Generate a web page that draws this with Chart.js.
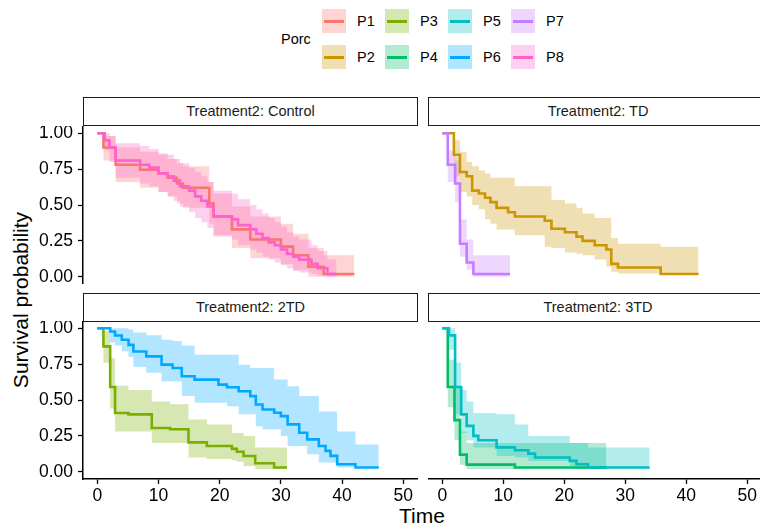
<!DOCTYPE html>
<html>
<head>
<meta charset="utf-8">
<script src="https://cdn.jsdelivr.net/npm/chart.js@4"></script>
<style>
  body { margin: 0; width: 760px; height: 527px; overflow: hidden; background: #fff; position: relative;
         font-family: "Liberation Sans", Arial, sans-serif; color: #000; }
  canvas { position: absolute; }
  .strip { position: absolute; box-sizing: border-box; height: 29px; border: 1.5px solid #1a1a1a; background: #fff;
           font-size: 14.5px; line-height: 26px; text-align: center; color: #1a1a1a; white-space: nowrap; }
  #legend { position: absolute; left: 322px; top: 9px; display: grid; grid-template-rows: 24px 24px; row-gap: 12px;
            grid-auto-flow: column; grid-auto-columns: 63px; }
  .item { display: flex; align-items: center; font-size: 14.5px; }
  .key { width: 24px; height: 24px; position: relative; margin-right: 11px; }
  .key span { position: absolute; left: 2px; right: 2px; top: 10.5px; height: 3px; }
  #ltitle { position: absolute; left: 281px; top: 31px; font-size: 14.5px; }
  #ytitle { position: absolute; left: 21px; top: 300px; font-size: 21px; white-space: nowrap;
            transform: translate(-50%, -50%) rotate(-90deg); }
  #xtitle { position: absolute; left: 422px; top: 516px; font-size: 21px; transform: translate(-50%, -50%); }
</style>
</head>
<body>
<div id="ltitle">Porc</div>
<div id="legend"></div>
<div id="ytitle">Survival probability</div>
<div id="xtitle">Time</div>
<script>
// series and panels
const seriesNames = ["P1", "P2", "P3", "P4", "P5", "P6", "P7", "P8"];
const seriesColors = ["#F8766D", "#CD9600", "#7CAE00", "#00BE67", "#00BFC4", "#00A9FF", "#C77CFF", "#FF61CC"];
const panelTitles = ["Treatment2: Control", "Treatment2: TD", "Treatment2: 2TD", "Treatment2: 3TD"];
const panelSeries = [["P1", "P8"], ["P2", "P7"], ["P3", "P6"], ["P4", "P5"]];
const xTicks = [0, 10, 20, 30, 40, 50];
const yTicks = [0, 0.25, 0.5, 0.75, 1];
const yTickLabels = ["0.00", "0.25", "0.50", "0.75", "1.00"];

// Kaplan-Meier steps: time, survival, upper and lower CI
const p1Time  = [0, 1, 3, 7, 10, 11.5, 13, 14, 18.3, 19, 22, 25, 30, 32, 34.5, 37, 42];
const p1Surv  = [1, 0.9, 0.78, 0.745, 0.72, 0.69, 0.65, 0.62, 0.51, 0.42, 0.33, 0.26, 0.21, 0.15, 0.07, 0.02, 0.02];
const p1Upper = [1, 0.98, 0.9, 0.87, 0.85, 0.82, 0.79, 0.77, 0.66, 0.58, 0.49, 0.42, 0.37, 0.3, 0.2, 0.15, 0.15];
const p1Lower = [1, 0.81, 0.66, 0.62, 0.59, 0.56, 0.51, 0.48, 0.37, 0.29, 0.2, 0.13, 0.09, 0.05, 0, 0, 0];

const p2Time  = [0, 1.9, 2.9, 4.0, 4.9, 6.0, 7.0, 7.9, 8.9, 10.8, 11.9, 16.8, 17.9, 20.1, 22, 23, 25, 26.9, 27.7, 28.8, 35.8, 42];
const p2Surv  = [1, 0.85, 0.73, 0.7, 0.6, 0.58, 0.55, 0.52, 0.48, 0.45, 0.42, 0.39, 0.335, 0.31, 0.28, 0.25, 0.22, 0.19, 0.09, 0.065, 0.02, 0.02];
const p2Upper = [1, 0.95, 0.87, 0.8, 0.77, 0.74, 0.72, 0.69, 0.69, 0.69, 0.63, 0.63, 0.535, 0.51, 0.48, 0.44, 0.41, 0.41, 0.27, 0.23, 0.21, 0.21];
const p2Lower = [1, 0.7, 0.59, 0.56, 0.5, 0.47, 0.4, 0.37, 0.33, 0.33, 0.29, 0.21, 0.2, 0.17, 0.16, 0.15, 0.12, 0.07, 0.035, 0.023, 0.02, 0.02];

const p3Time  = [0, 1.0, 2.1, 2.9, 5.1, 8.9, 11.9, 14.9, 17.9, 22, 22.8, 23.9, 25.8, 28.9, 31];
const p3Surv  = [1, 0.873, 0.59, 0.41, 0.4, 0.305, 0.296, 0.205, 0.18, 0.16, 0.14, 0.11, 0.06, 0.03, 0.03];
const p3Upper = [1, 0.98, 0.79, 0.6, 0.57, 0.49, 0.47, 0.365, 0.33, 0.27, 0.27, 0.25, 0.17, 0.17, 0.17];
const p3Lower = [1, 0.76, 0.44, 0.28, 0.28, 0.2, 0.2, 0.1, 0.09, 0.08, 0.07, 0.04, 0.02, 0.02, 0.02];

const p4Time  = [0, 0.9, 2.0, 2.9, 4.0, 11.9, 26.9];
const p4Surv  = [1, 0.59, 0.36, 0.12, 0.05, 0.03, 0.03];
const p4Upper = [1, 0.78, 0.6, 0.28, 0.2, 0.2, 0.2];
const p4Lower = [1, 0.45, 0.22, 0.05, 0.02, 0.02, 0.02];

const p5Time  = [0, 1.1, 2.1, 3.1, 4.0, 5.1, 5.9, 8.9, 11.9, 14.1, 15.2, 20.9, 22, 23.9, 34];
const p5Surv  = [1, 0.95, 0.59, 0.4, 0.32, 0.25, 0.22, 0.17, 0.15, 0.127, 0.1, 0.076, 0.053, 0.03, 0.03];
const p5Upper = [1, 1, 0.76, 0.57, 0.49, 0.41, 0.41, 0.4, 0.33, 0.25, 0.25, 0.2, 0.2, 0.17, 0.17];
const p5Lower = [1, 0.85, 0.4, 0.27, 0.22, 0.17, 0.17, 0.11, 0.1, 0.076, 0.076, 0.04, 0.04, 0.025, 0.025];

const p6Time  = [0, 2.1, 2.9, 4.0, 5.1, 5.9, 8.0, 10.5, 12.3, 13.8, 15.9, 19.8, 21.2, 23.1, 25, 25.9, 27, 28.9, 30, 31.1, 33, 34.3, 36.2, 37.3, 38.1, 39.2, 42.2, 46];
const p6Surv  = [1, 0.977, 0.949, 0.919, 0.884, 0.838, 0.804, 0.746, 0.723, 0.665, 0.642, 0.607, 0.589, 0.561, 0.527, 0.469, 0.434, 0.411, 0.388, 0.33, 0.272, 0.226, 0.18, 0.146, 0.111, 0.053, 0.03, 0.03];
const p6Upper = [1, 1, 1, 1, 0.99, 0.97, 0.95, 0.92, 0.91, 0.88, 0.815, 0.815, 0.815, 0.746, 0.723, 0.723, 0.723, 0.642, 0.642, 0.596, 0.527, 0.527, 0.42, 0.42, 0.42, 0.28, 0.19, 0.19];
const p6Lower = [1, 0.9, 0.88, 0.84, 0.8, 0.73, 0.69, 0.63, 0.63, 0.527, 0.48, 0.48, 0.457, 0.4, 0.4, 0.318, 0.296, 0.296, 0.25, 0.18, 0.18, 0.123, 0.065, 0.065, 0.065, 0.03, 0.03, 0.03];

const p7Time  = [0, 0.9, 2.1, 2.9, 4.0, 5.1, 11.1];
const p7Surv  = [1, 0.78, 0.65, 0.23, 0.1, 0.02, 0.02];
const p7Upper = [1, 0.88, 0.81, 0.4, 0.26, 0.15, 0.15];
const p7Lower = [1, 0.66, 0.52, 0.14, 0.05, 0, 0];

const p8Time  = [0, 1.2, 2, 3, 7, 8.5, 10, 11.5, 12.5, 13.5, 15, 16, 17, 18, 19, 22, 23, 25, 26, 27, 28, 29, 30, 31, 32, 33, 35, 36, 37.6, 39.1];
const p8Surv  = [1, 0.95, 0.9, 0.81, 0.78, 0.76, 0.72, 0.7, 0.67, 0.63, 0.6, 0.56, 0.53, 0.49, 0.42, 0.4, 0.36, 0.33, 0.3, 0.27, 0.24, 0.22, 0.19, 0.16, 0.14, 0.12, 0.09, 0.06, 0.02, 0.02];
const p8Upper = [1, 1, 0.98, 0.93, 0.91, 0.89, 0.86, 0.85, 0.82, 0.79, 0.76, 0.73, 0.7, 0.66, 0.6, 0.58, 0.54, 0.5, 0.47, 0.44, 0.41, 0.38, 0.35, 0.31, 0.28, 0.26, 0.22, 0.18, 0.12, 0.12];
const p8Lower = [1, 0.88, 0.8, 0.69, 0.65, 0.63, 0.59, 0.56, 0.53, 0.49, 0.45, 0.41, 0.38, 0.34, 0.28, 0.26, 0.22, 0.19, 0.17, 0.14, 0.12, 0.1, 0.08, 0.06, 0.04, 0.03, 0.02, 0.01, 0, 0];

const curves = {
  P1: [p1Time, p1Surv, p1Upper, p1Lower], P2: [p2Time, p2Surv, p2Upper, p2Lower],
  P3: [p3Time, p3Surv, p3Upper, p3Lower], P4: [p4Time, p4Surv, p4Upper, p4Lower],
  P5: [p5Time, p5Surv, p5Upper, p5Lower], P6: [p6Time, p6Surv, p6Upper, p6Lower],
  P7: [p7Time, p7Surv, p7Upper, p7Lower], P8: [p8Time, p8Surv, p8Upper, p8Lower]
};

function alpha(hex, a) {
  const n = parseInt(hex.slice(1), 16);
  return "rgba(" + (n >> 16) + "," + ((n >> 8) & 255) + "," + (n & 255) + "," + a + ")";
}

// legend
const legend = document.getElementById("legend");
seriesNames.forEach((name, i) => {
  const it = document.createElement("div");
  it.className = "item";
  it.innerHTML = '<div class="key" style="background:' + alpha(seriesColors[i], 0.3) + '"><span style="background:' +
    seriesColors[i] + '"></span></div>' + name;
  legend.appendChild(it);
});

// canvas boxes and strips for the 2x2 facets
const panels = [
  { left: 0, top: 126, w: 418, h: 158, strip: [83, 97, 335], yAxis: true, xAxis: false },
  { left: 428, top: 126, w: 334, h: 158, strip: [428, 97, 340], yAxis: false, xAxis: false },
  { left: 0, top: 321, w: 418, h: 206, strip: [83, 293, 335], yAxis: true, xAxis: true },
  { left: 428, top: 321, w: 334, h: 206, strip: [428, 293, 340], yAxis: false, xAxis: true }
];

const tickFont = { family: "Liberation Sans", size: 17.5 };

function noPad(sc) {
  sc.paddingTop = 0; sc.paddingBottom = 0; sc.paddingLeft = 0; sc.paddingRight = 0;
}

panels.forEach((p, k) => {
  const s = document.createElement("div");
  s.className = "strip";
  s.style.left = p.strip[0] + "px"; s.style.top = p.strip[1] + "px"; s.style.width = p.strip[2] + "px";
  s.textContent = panelTitles[k];
  document.body.appendChild(s);

  const c = document.createElement("canvas");
  c.width = p.w; c.height = p.h;
  c.style.left = p.left + "px"; c.style.top = p.top + "px";
  document.body.appendChild(c);

  const datasets = [];
  panelSeries[k].forEach(name => {
    const idx = seriesNames.indexOf(name);
    const [t, sv, up, lo] = curves[name];
    const pts = arr => t.map((x, i) => ({ x: x, y: arr[i] }));
    datasets.push({ label: name + " upper", data: pts(up), borderWidth: 0, borderColor: "transparent",
      pointRadius: 0, stepped: true, fill: false, order: 20 - idx });
    datasets.push({ label: name + " lower", data: pts(lo), borderWidth: 0, borderColor: "transparent",
      pointRadius: 0, stepped: true, fill: "-1", backgroundColor: alpha(seriesColors[idx], 0.3), order: 20 - idx });
    datasets.push({ label: name, data: pts(sv), borderColor: seriesColors[idx], borderWidth: 2.6,
      pointRadius: 0, stepped: true, fill: false, order: 10 - idx });
  });

  new Chart(c.getContext("2d"), {
    type: "line",
    data: { datasets: datasets },
    options: {
      responsive: false, animation: false, devicePixelRatio: 1,
      layout: { padding: 0 },
      plugins: { legend: { display: false }, tooltip: { enabled: false } },
      scales: {
        x: {
          type: "linear", min: -2.34, max: 52.41, display: p.xAxis,
          afterBuildTicks: sc => { sc.ticks = xTicks.map(v => ({ value: v })); },
          afterFit: sc => { noPad(sc); if (p.xAxis) sc.height = 48; },
          grid: { drawOnChartArea: false, tickLength: 5, tickColor: "#000", tickWidth: 1.3 },
          border: { display: true, color: "#000", width: 1.5 },
          ticks: { color: "#000", font: tickFont, padding: 2, maxRotation: 0, callback: v => String(v) }
        },
        y: {
          min: -0.05, max: 1.05, display: p.yAxis,
          afterBuildTicks: sc => { sc.ticks = yTicks.map(v => ({ value: v })); },
          afterFit: sc => { noPad(sc); if (p.yAxis) sc.width = 83; },
          grid: { drawOnChartArea: false, tickLength: 5, tickColor: "#000", tickWidth: 1.3 },
          border: { display: true, color: "#000", width: 1.5 },
          ticks: { color: "#000", font: tickFont, padding: 5, callback: v => yTickLabels[yTicks.indexOf(v)] }
        }
      }
    }
  });
});
</script>
</body>
</html>
